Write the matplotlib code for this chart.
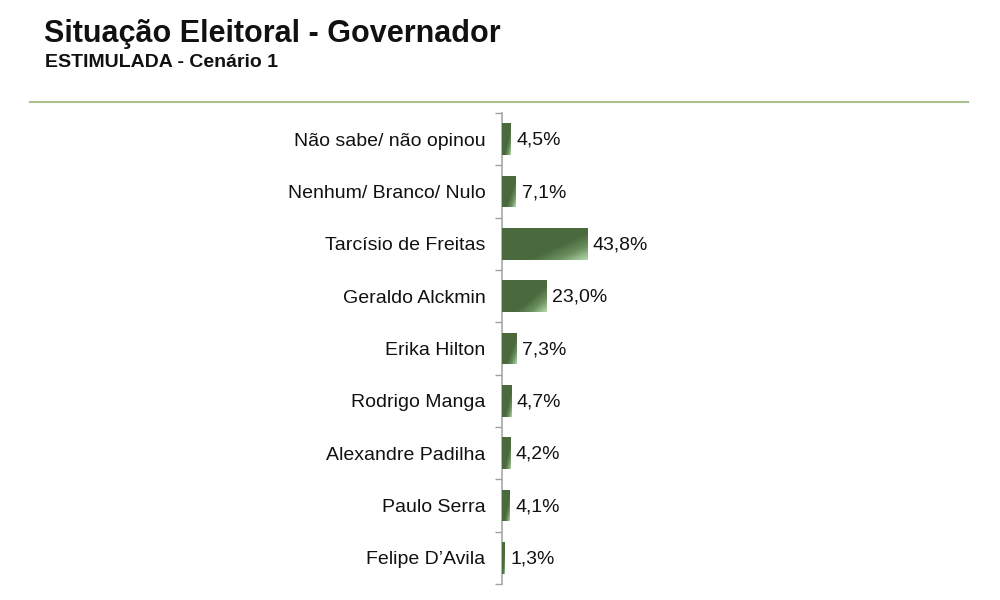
import numpy as np
import matplotlib
matplotlib.use('Agg')
from matplotlib import pyplot as plt
from matplotlib.colors import LinearSegmentedColormap
from matplotlib.lines import Line2D

plt.rcParams['font.family'] = ['Liberation Sans', 'DejaVu Sans']

categories = ['Não sabe/ não opinou', 'Nenhum/ Branco/ Nulo', 'Tarcísio de Freitas',
              'Geraldo Alckmin', 'Erika Hilton', 'Rodrigo Manga',
              'Alexandre Padilha', 'Paulo Serra', 'Felipe D\u2019Avila']
values = [4.5, 7.1, 43.8, 23.0, 7.3, 4.7, 4.2, 4.1, 1.3]
value_labels = ['4,5%', '7,1%', '43,8%', '23,0%', '7,3%', '4,7%', '4,2%', '4,1%', '1,3%']

fig = plt.figure(figsize=(10, 6), dpi=100)
ax = fig.add_axes([0.502, 0.0267, 0.466, 0.785])

y = np.arange(len(categories))
bar_h = 0.61
bars = ax.barh(y, values, height=bar_h, color='#4a6a3e', edgecolor='none', zorder=2)

# mostly flat dark green, lighter toward the bottom-right corner
cmap = LinearSegmentedColormap.from_list(
    'g', [(0, '#4a6a3e'), (0.62, '#4a6a3e'), (0.8, '#6a8f5e'), (1, '#b4d8ab')])
gx, gy = np.meshgrid(np.linspace(0, 1, 100), np.linspace(0, 1, 50))
grad = 0.55 * gx + 0.45 * gy
for b in bars:
    x0, y0 = b.get_x(), b.get_y()
    w, h = b.get_width(), b.get_height()
    im = ax.imshow(grad, cmap=cmap, vmin=0, vmax=1, aspect='auto',
                   extent=[x0, x0 + w, y0 + h, y0], origin='upper', zorder=3)
    im.set_clip_path(b)

for yi, v, lab in zip(y, values, value_labels):
    ax.text(v + 3.0, yi + 0.02, lab, va='center', ha='left', fontsize=14, color='#111111')

ax.set_xlim(0, 240)
ax.set_ylim(len(categories) - 0.5, -0.5)
ax.set_yticks(y)
ax.set_yticklabels(categories, fontsize=14, color='#111111')
ax.set_yticks(np.arange(len(categories) + 1) - 0.5, minor=True)
ax.tick_params(axis='y', which='major', length=0, pad=12)
ax.tick_params(axis='y', which='minor', length=5, color='#a0a0a0', width=1)
ax.set_xticks([])
for s in ['top', 'right', 'bottom']:
    ax.spines[s].set_visible(False)
ax.spines['left'].set_color('#a8a8a8')
ax.spines['left'].set_linewidth(1.2)

fig.text(0.044, 0.944, 'Situação Eleitoral - Governador', fontsize=22,
         fontweight='bold', va='center', ha='left', color='#111111')
fig.text(0.045, 0.896, 'ESTIMULADA - Cenário 1', fontsize=14,
         fontweight='bold', va='center', ha='left', color='#111111')
fig.add_artist(Line2D([0.03, 0.968], [0.83, 0.83], transform=fig.transFigure,
                      color='#a9c08f', linewidth=1.5))

fig.savefig('out.png', dpi=100)
